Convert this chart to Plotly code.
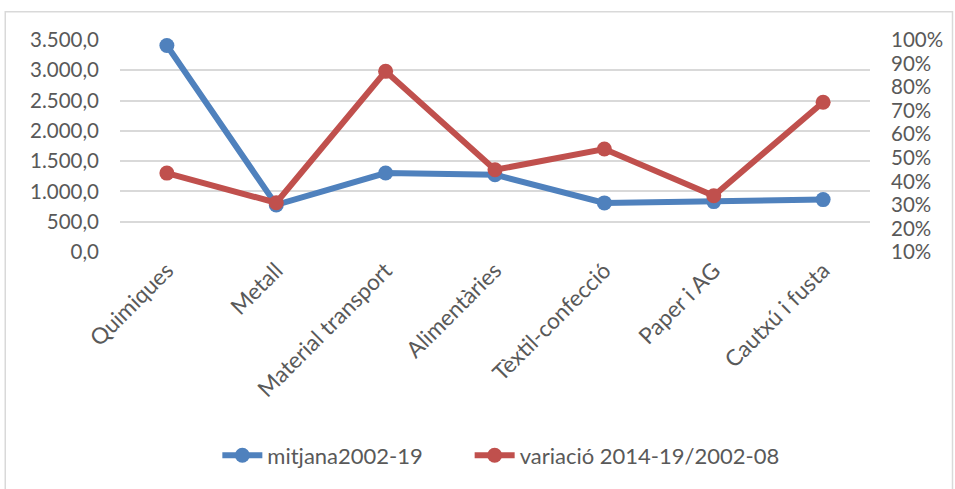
import plotly.graph_objects as go

categories = ["Quimiques", "Metall", "Material transport", "Alimentàries",
              "Tèxtil-confecció", "Paper i AG", "Cautxú i fusta"]
mitjana = [3410, 778, 1304, 1276, 811, 832, 865]
variacio = [0.435, 0.309, 0.867, 0.449, 0.537, 0.339, 0.736]
left_ticks = [0, 500, 1000, 1500, 2000, 2500, 3000, 3500]
right_ticks = [0.1, 0.2, 0.3, 0.4, 0.5, 0.6, 0.7, 0.8, 0.9, 1.0]

BLUE = "#4f81bd"
RED = "#c0504d"
GRAY = "#595959"
FONT = "Lato"
FS = 20.5

fig = go.Figure()
fig.add_trace(go.Scatter(x=categories, y=mitjana, name="mitjana2002-19",
                         mode="lines+markers", cliponaxis=False,
                         line=dict(color=BLUE, width=6),
                         marker=dict(color=BLUE, size=15), yaxis="y",
                         legend="legend"))
fig.add_trace(go.Scatter(x=categories, y=variacio, name="variació 2014-19/2002-08",
                         mode="lines+markers", cliponaxis=False,
                         line=dict(color=RED, width=6),
                         marker=dict(color=RED, size=15), yaxis="y2",
                         legend="legend2"))

leg_common = dict(orientation="h", xanchor="left", y=-0.96, yanchor="middle",
                  font=dict(family=FONT, size=22, color=GRAY), itemwidth=40,
                  bgcolor="rgba(0,0,0,0)")

fig.update_layout(
    width=955, height=489,
    margin=dict(l=120, r=80, t=40, b=236),
    paper_bgcolor="white", plot_bgcolor="white",
    separators=",.",
    font=dict(family=FONT, size=FS, color=GRAY),
    showlegend=True,
    legend=dict(x=0.1298, **leg_common),
    legend2=dict(x=0.4662, **leg_common),
    xaxis=dict(type="category", showgrid=False, showline=False, ticks="",
               tickangle=-45, tickfont=dict(size=22.5, color=GRAY), zeroline=False),
    yaxis=dict(range=[0, 3500], tickvals=left_ticks, tickformat=",.1f",
               showgrid=True, gridcolor="#d9d9d9", gridwidth=1.5,
               zeroline=False, showline=False, ticks="", ticklabelstandoff=20,
               tickfont=dict(size=FS, color=GRAY)),
    yaxis2=dict(range=[0.1, 1.0], tickvals=right_ticks, tickformat=".0%",
                overlaying="y", side="right", showgrid=False, zeroline=False,
                showline=False, ticks="", ticklabelstandoff=20,
                tickfont=dict(size=FS, color=GRAY)),
    shapes=[dict(type="rect", xref="paper", yref="paper",
                 x0=-0.153, x1=1.11, y0=-1.2, y1=1.133,
                 line=dict(color="#d9d9d9", width=1.5), layer="below")],
)

fig.write_html("out.html", config={"displayModeBar": False},
               post_script="document.body.style.margin='0';")
